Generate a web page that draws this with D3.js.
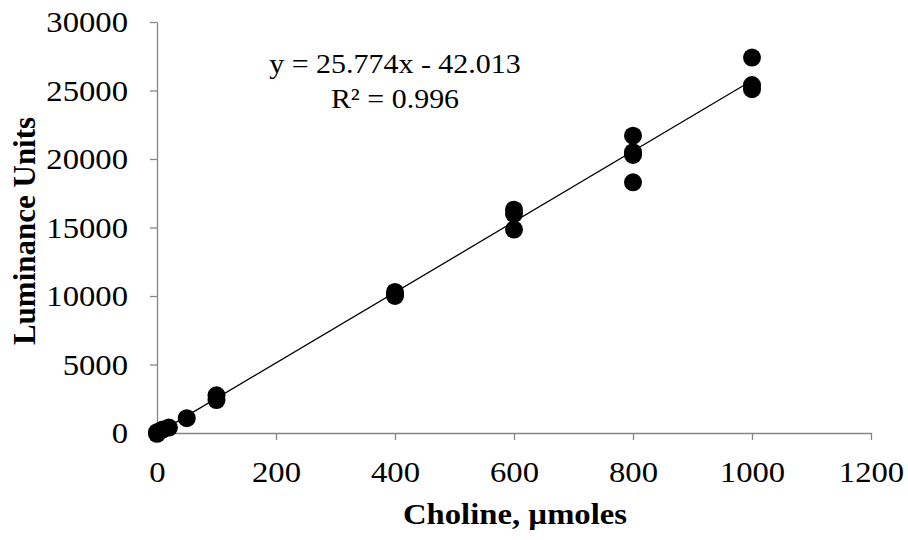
<!DOCTYPE html>
<html>
<head>
<meta charset="utf-8">
<script src="https://cdn.jsdelivr.net/npm/d3@7"></script>
<style>
  body { margin: 0; background: #fff; }
  svg { display: block; }
  svg text { font-family: "Liberation Serif", "Times New Roman", Times, "DejaVu Serif", serif; fill: #000; }
</style>
</head>
<body>
<svg id="chart" width="908" height="540"></svg>
<script>
// Choline standard curve: concentration (µmoles) vs luminance
const choline = [0, 0, 5, 10, 20, 50, 100, 100, 400, 400, 400, 600, 600, 600, 800, 800, 800, 800, 1000, 1000, 1000];
const luminance = [-60, 60, 150, 260, 400, 1080, 2750, 2400, 10000, 10300, 10150, 16300, 16000, 14850, 21700, 20500, 20300, 18300, 27400, 25400, 25100];
const slope = 25.774;
const intercept = -42.013;
const rSquared = 0.996;
const xTicks = [0, 200, 400, 600, 800, 1000, 1200];
const yTicks = [0, 5000, 10000, 15000, 20000, 25000, 30000];

const serif = '"Liberation Serif", "Times New Roman", Times, serif';
const widen = 1.09; // horizontal stretch of the lettering
const svg = d3.select("#chart");
const x = d3.scaleLinear().domain([0, 1200]).range([157, 871]);
const y = d3.scaleLinear().domain([0, 30000]).range([433, 22]);
const axisColor = "#868686";

// stretch a text element horizontally around its anchor point
function stretch(sel, k, ax, ay) {
  sel.each(function () {
    const t = d3.select(this);
    const px = ax !== undefined ? ax : (+t.attr("x") || 0);
    const py = ay !== undefined ? ay : (+t.attr("y") || 0);
    t.attr("transform", `translate(${px},${py}) scale(${k},1) translate(${-px},${-py})`);
  });
}

const xAxis = svg.append("g").attr("transform", `translate(0,${y(0)})`)
  .call(d3.axisBottom(x).tickValues(xTicks).tickSize(7).tickSizeOuter(0).tickPadding(21).tickFormat(d3.format("d")));
const yAxis = svg.append("g").attr("transform", `translate(${x(0)},0)`)
  .call(d3.axisLeft(y).tickValues(yTicks).tickSize(7).tickSizeOuter(0).tickPadding(22).tickFormat(d3.format("d")));
[xAxis, yAxis].forEach(g => {
  g.attr("font-family", serif).attr("font-size", 30);
  g.select(".domain").attr("stroke", axisColor).attr("stroke-width", 1.3);
  g.selectAll(".tick line").attr("stroke", axisColor).attr("stroke-width", 1.3);
  g.selectAll(".tick text").attr("fill", "#000").call(stretch, widen);
});

// data points
svg.append("g").selectAll("circle")
  .data(choline.map((c, i) => [c, luminance[i]]))
  .join("circle")
  .attr("cx", d => x(d[0]))
  .attr("cy", d => y(d[1]))
  .attr("r", 9)
  .attr("fill", "#000");

// linear trendline
svg.append("line")
  .attr("x1", x(0)).attr("y1", y(intercept))
  .attr("x2", x(1000)).attr("y2", y(slope * 1000 + intercept))
  .attr("stroke", "#000").attr("stroke-width", 1.3);

// regression equation
const eq = svg.append("text").attr("text-anchor", "middle").attr("font-size", 28).attr("font-family", serif);
eq.append("tspan").attr("x", 395).attr("y", 73)
  .text(`y = ${slope}x - ${Math.abs(intercept).toFixed(3)}`);
eq.append("tspan").attr("x", 395).attr("y", 108)
  .text(`R² = ${rSquared}`);
stretch(eq, 1.07, 395, 90);

// axis titles
svg.append("text").attr("x", 515).attr("y", 524).attr("font-family", serif)
  .attr("text-anchor", "middle").attr("font-size", 30).attr("font-weight", "bold")
  .text("Choline, µmoles")
  .call(stretch, widen);
svg.append("text").attr("transform", "translate(35,231) rotate(-90)").attr("font-family", serif)
  .attr("text-anchor", "middle").attr("font-size", 31).attr("font-weight", "bold")
  .text("Luminance Units");
</script>
</body>
</html>
